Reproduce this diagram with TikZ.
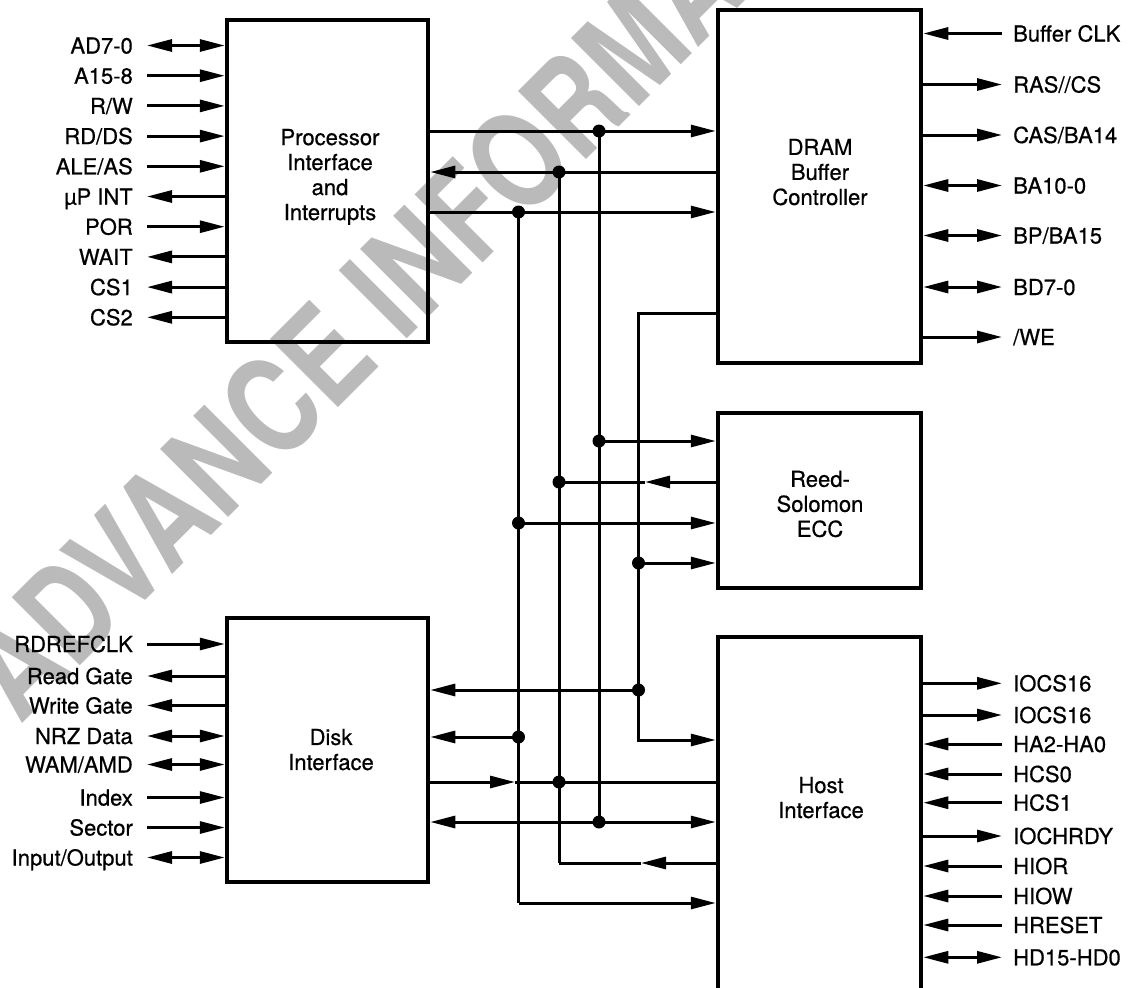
\documentclass[tikz,border=0pt]{standalone}
\usepackage{fontspec}
\setmainfont{TeX Gyre Heros}
\newfontfamily\lblfont[FakeBold=0.6]{TeX Gyre Heros}
\usepackage{graphicx}
\usetikzlibrary{arrows.meta}
\tikzset{
  blk/.style={draw, line width=4.5pt, inner sep=0pt},
  boxtxt/.style={align=center, inner sep=0pt, font=\lblfont\fontsize{22}{25}\selectfont},
  lbl/.style={inner sep=0pt, text height=16pt, text depth=0pt, font=\lblfont\fontsize{22}{25}\selectfont},
  sig/.style={line width=3pt},
  Tr/.tip={Triangle[length=25pt,width=12pt]},
  tb/.style={-Tr},
  fb/.style={Tr-},
  bb/.style={Tr-Tr},
  dot/.style={circle, fill, inner sep=0pt, minimum size=13pt},
  wm/.style={inner sep=0pt, text=black!27, font=\fontsize{132}{132}\selectfont\bfseries},
}
\begin{document}
\begin{tikzpicture}[x=1pt,y=-1pt]
\useasboundingbox (0,0) rectangle (1141,988);
\clip (0,0) rectangle (1141,988);
\fill[white] (0,0) rectangle (1141,988);
% watermark
\path (20,726) node[wm, rotate=45, anchor=base west] (wm) {\scalebox{0.8}[1]{ADVANCE INFORMATION}};
% blocks
\node[blk, minimum width=201pt, minimum height=322pt] (proc) at (327.5,181) {};
\node[blk, minimum width=203pt, minimum height=353pt] (dram) at (819.5,186.5) {};
\node[blk, minimum width=203pt, minimum height=175pt] (rs) at (819.5,500.5) {};
\node[blk, minimum width=201pt, minimum height=264pt] (disk) at (327.5,750) {};
\node[blk, minimum width=203pt, minimum height=380pt] (host) at (819.5,827) {};
\node[boxtxt] (procT) at (330,176.9) {Processor\\Interface\\and\\Interrupts};
\node[boxtxt] (dramT) at (820,172.1) {DRAM\\Buffer\\Controller};
\node[boxtxt] (rsT) at (820,504) {Reed-\\Solomon\\ECC};
\node[boxtxt] (diskT) at (331,749.6) {Disk\\Interface};
\node[boxtxt] (hostT) at (821,797.6) {Host\\Interface};
% processor pins
\foreach \y/\t/\d [count=\i] in {45.5/{AD7-0}/bb, 75.7/{A15-8}/tb, 105.9/{R/W}/tb, 136.1/{RD/DS}/tb, 166.3/{ALE/AS}/tb, 196.5/{µP INT}/fb, 226.7/{POR}/tb, 256.9/{WAIT}/fb, 287.1/{CS1}/fb, 317.3/{CS2}/fb}{
  \node[lbl, anchor=east] (P\i) at (133,\y) {\t};
  \draw[sig,\d] ([xshift=14pt]P\i.east) -- (P\i.east -| proc.west);
}
% disk pins
\foreach \y/\t/\d [count=\i] in {644/{RDREFCLK}/tb, 676/{Read Gate}/fb, 705.5/{Write Gate}/fb, 736/{NRZ Data}/bb, 764.5/{WAM/AMD}/bb, 797.5/{Index}/tb, 827.5/{Sector}/tb, 857.5/{Input/Output}/bb}{
  \node[lbl, anchor=east] (K\i) at (133,\y) {\t};
  \draw[sig,\d] ([xshift=14pt]K\i.east) -- (K\i.east -| disk.west);
}
% dram pins
\foreach \y/\t/\d [count=\i] in {33.5/{Buffer CLK}/tb, 84.5/{RAS//CS}/fb, 135/{CAS/BA14}/fb, 185.5/{BA10-0}/bb, 235.5/{BP/BA15}/bb, 287/{BD7-0}/bb, 337/{/WE}/fb}{
  \node[lbl, anchor=west] (D\i) at (1013,\y) {\t};
  \draw[sig,\d] ([xshift=-11pt]D\i.west) -- (D\i.west -| dram.east);
}
% host pins
\foreach \y/\t/\d [count=\i] in {683.3/{IOCS16}/fb, 715/{IOCS16}/fb, 744/{HA2-HA0}/tb, 774/{HCS0}/tb, 802.7/{HCS1}/tb, 836/{IOCHRDY}/fb, 866/{HIOR}/tb, 896/{HIOW}/tb, 925/{HRESET}/tb, 957.3/{HD15-HD0}/bb}{
  \node[lbl, anchor=west] (H\i) at (1013,\y) {\t};
  \draw[sig,\d] ([xshift=-11pt]H\i.west) -- (H\i.west -| host.east);
}
% junctions
\node[dot] (dA) at (599,131) {};
\node[dot] (dB) at (559,172) {};
\node[dot] (dC) at (518.5,212) {};
\node[dot] (dR1) at (599,441) {};
\node[dot] (dR2) at (559,482) {};
\node[dot] (dR3) at (518.5,523) {};
\node[dot] (dR4) at (638.5,563) {};
\node[dot] (dK1) at (638.5,690) {};
\node[dot] (dK2) at (518.5,737) {};
\node[dot] (dK3) at (559,782) {};
\node[dot] (dK4) at (599,822) {};
\coordinate (cD1) at (638.5,313);
\coordinate (cD2) at (638.5,740);
\coordinate (cH1) at (559,863);
\coordinate (cH2) at (518.5,903);
\coordinate (m1) at (645,482);
\coordinate (m2) at (515,782);
\coordinate (m3) at (641,863);
% bus verticals
\draw[sig] (dA.center) -- (dK4.center);
\draw[sig] (dB.center) -- (cH1);
\draw[sig] (dC.center) -- (cH2);
% processor <-> dram
\draw[sig,tb] (proc.east |- dA) -- (dram.west |- dA);
\draw[sig,tb] (dram.west |- dB) -- (proc.east |- dB);
\draw[sig,tb] (proc.east |- dC) -- (dram.west |- dC);
\draw[sig,tb] (dram.west |- cD1) -- (cD1) -- (cD2) -- (host.west |- cD2);
% reed-solomon
\draw[sig,tb] (dR1.center) -- (rs.west |- dR1);
\draw[sig,tb] (rs.west |- dR2) -- (m1);
\draw[sig] (m1) -- (dR2.center);
\draw[sig,tb] (dR3.center) -- (rs.west |- dR3);
\draw[sig,tb] (dR4.center) -- (rs.west |- dR4);
% disk / host
\draw[sig,tb] (dK1.center) -- (disk.east |- dK1);
\draw[sig,tb] (dK2.center) -- (disk.east |- dK2);
\draw[sig,tb] (disk.east |- dK3) -- (m2);
\draw[sig] (m2) -- (host.west |- dK3);
\draw[sig,tb] (dK4.center) -- (disk.east |- dK4);
\draw[sig,tb] (dK4.center) -- (host.west |- dK4);
\draw[sig,tb] (host.west |- cH1) -- (m3);
\draw[sig] (m3) -- (cH1);
\draw[sig,tb] (cH2) -- (host.west |- cH2);
\end{tikzpicture}
\end{document}
